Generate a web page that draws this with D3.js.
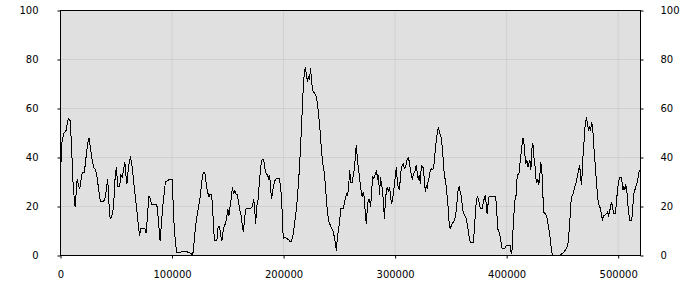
<!DOCTYPE html>
<html>
<head>
<meta charset="utf-8">
<script src="https://cdn.jsdelivr.net/npm/d3@7/dist/d3.min.js"></script>
<style>
  body { margin: 0; background: #ffffff; }
  text { font-family: "DejaVu Sans", sans-serif; font-size: 10px; fill: #000; }
</style>
</head>
<body>
<div id="chart"></div>
<script>
// Series: x position and value
const xs = [
  0, 1190, 2976, 5059, 6547, 7440, 8630, 9523, 10416, 11309, 12202, 13094, 13987, 14880, 16070, 17261,
  18451, 19642, 21427, 22618, 24403, 25594, 26784, 27974, 29760, 31546, 32736, 33926, 35117, 35712,
  38688, 40176, 41366, 42259, 43152, 43747, 44640, 45830, 47021, 48211, 49104, 50294, 51187, 52973,
  54163, 55354, 56544, 57734, 58627, 59520, 60710, 61901, 62794, 63984, 65174, 66365, 67555, 68746,
  69936, 70829, 72019, 75590, 76781, 77971, 79162, 80054, 81542, 86304, 87494, 88685, 89280, 90470,
  91661, 92851, 94042, 95827, 97613, 99994, 100886, 101779, 102970, 104160, 107731, 108922, 113088,
  114278, 116659, 117850, 119040, 120230, 121421, 122611, 123802, 124992, 126182, 127373, 128563,
  129766, 130659, 131849, 133040, 134230, 135421, 136313, 137206, 138099, 140182, 141372, 142563,
  143753, 144646, 145539, 146729, 147920, 149110, 150003, 150896, 152086, 153276, 154169, 155062,
  156252, 157443, 158633, 159824, 161014, 162204, 163097, 163990, 165180, 166371, 169942, 172323,
  172918, 173811, 175001, 175894, 177085, 177977, 178870, 179763, 180656, 182144, 183334, 184524,
  185715, 186608, 187500, 188393, 189286, 190179, 191369, 192560, 193750, 196131, 197024, 197916,
  198809, 199702, 201190, 202678, 204464, 205952, 207142, 208332, 209523, 210713, 211904, 213094,
  214284, 215177, 216070, 216963, 217856, 218748, 219641, 220534, 221427, 222320, 223212, 224105,
  224998, 225891, 226784, 227974, 229164, 230355, 231248, 232438, 233331, 234224, 235116, 236009,
  236902, 237795, 238688, 239580, 240771, 241961, 243152, 244342, 245532, 246425, 247318, 248211,
  249104, 250294, 251187, 253270, 254460, 255651, 256544, 257436, 258329, 259229, 260121, 261609,
  262502, 263395, 264288, 265181, 266073, 266966, 267859, 268752, 269645, 270537, 271430, 272323,
  273216, 274109, 275001, 275894, 277085, 277977, 278870, 279763, 280953, 282144, 283334, 284227,
  285120, 286013, 286905, 287798, 288691, 289584, 290477, 291369, 292262, 293155, 294048, 294941,
  295833, 296726, 297619, 298512, 299405, 300297, 301190, 302083, 302976, 303869, 304761, 305654,
  306547, 307440, 308333, 309225, 310118, 311011, 311904, 312797, 313689, 314582, 315475, 316368,
  317261, 318153, 319046, 319939, 320832, 321725, 322617, 323510, 324403, 325296, 326189, 327081,
  327974, 328867, 329760, 330653, 331545, 332438, 333331, 334224, 335117, 336009, 336902, 337795,
  338688, 339581, 340473, 341366, 342259, 343152, 344045, 344937, 345830, 346723, 347616, 348509,
  349401, 350294, 351187, 352080, 352973, 353865, 354758, 355651, 356544, 357437, 358329, 359222,
  360115, 361008, 362198, 363389, 364579, 365770, 366960, 368150, 370234, 371127, 372019, 372912,
  373805, 374698, 375591, 376483, 377971, 378864, 379757, 380650, 381542, 382435, 383328, 384221,
  390179, 391072, 391964, 393155, 394048, 394940, 395833, 398512, 399404, 403273, 404166, 404761,
  405654, 406547, 407440, 408332, 409225, 410118, 411011, 411904, 412796, 413689, 414582, 415475,
  416368, 417260, 418153, 419046, 419939, 420832, 421724, 422617, 423510, 424403, 425296, 426188,
  427081, 427974, 428867, 429760, 430652, 431545, 432438, 433331, 434521, 435712, 436604, 437497,
  438390, 439283, 440176, 441068, 447318, 448508, 449401, 450294, 451187, 452377, 453270, 454460,
  455353, 456246, 457139, 458032, 459222, 460115, 461008, 461900, 462793, 463686, 464579, 465472,
  466364, 467257, 468150, 469043, 469936, 470828, 471721, 472614, 473507, 474400, 475292, 476185,
  477078, 477971, 478864, 479756, 480649, 481542, 482435, 483328, 484220, 485113, 486006, 486899,
  488089, 489280, 490470, 491363, 492256, 493148, 494041, 494934, 495827, 497612, 498505, 499398,
  500291, 501184, 502374, 503267, 504160, 505052, 505945, 506838, 507731, 508624, 509516, 510409,
  512195, 513088, 513980, 514873, 515766, 516659, 517552, 518444, 519500
];
const ys = [
  33, 46, 50, 51, 55, 56, 55, 48, 39, 29, 24, 20, 25, 31, 29, 27,
  31, 34, 34, 39, 46, 48, 44, 40, 36, 35, 32, 28, 24, 22,
  22, 24, 28, 31, 25, 18, 15, 16, 18, 25, 33, 36, 28, 28,
  33, 32, 35, 38, 33, 29, 35, 39, 40, 37, 32, 27, 22, 17,
  12, 8, 11, 11, 9, 16, 24, 24, 21, 21, 16, 9, 6, 13,
  20, 25, 30, 30.5, 31, 31, 22.5, 13, 5.5, 1.2, 1.2, 1.8, 1.8,
  1.2, 1, 0.4, 1.4, 8, 13, 17, 20, 23, 28, 33, 34,
  33, 29, 26, 24, 25, 25, 20, 11.6, 6, 6, 12, 11.6,
  8, 6, 9, 12, 13, 16, 19, 16, 20, 24, 28, 25,
  26.5, 25, 25, 21, 18, 16, 11.6, 9.5, 16, 19, 19, 20,
  23, 21, 13, 20, 22.5, 28, 33, 37, 39, 39, 35.5, 33,
  33, 31, 33, 27, 23, 26.5, 29, 31, 31.5, 31.5, 29, 25,
  17, 7, 7.5, 7, 6.5, 5.5, 6, 8, 11.6, 16, 21, 28,
  36, 44, 52.5, 62, 70, 75.7, 76.4, 73.6, 71, 72.8, 71.6, 76.4,
  72.3, 67.5, 67, 66, 65, 62, 58, 52.5, 47, 41.6, 37.5, 35.5,
  32, 26.6, 21, 17, 13.6, 12.3, 11, 10, 7.5, 4.8, 2, 7.5,
  10, 14, 19, 19, 21, 24, 25, 24.5, 28, 35, 30, 30,
  33, 35, 40, 45, 40, 36, 33, 29, 26, 24, 26, 24,
  17.7, 13, 18.4, 23, 23, 20, 25, 32, 31.4, 33, 35, 31,
  33, 24.5, 32, 29, 27, 21, 15, 23, 26.6, 28, 26, 28,
  25, 21, 22.5, 26, 28.6, 33, 36, 29, 28, 26.6, 32, 36,
  37, 37.5, 35.5, 36, 37.5, 39.6, 40, 38, 35, 33, 31, 33,
  34, 35, 37, 33, 31, 33, 29, 37, 36, 36, 31, 26,
  28.6, 27, 31, 32, 35, 35.5, 35, 35.5, 38, 43, 47, 50,
  52, 51, 49, 48, 44, 39, 33, 31, 28, 24, 19, 13,
  11, 12, 13, 13.6, 14.3, 15.7, 18.4, 22.5, 27, 28, 26, 24.5,
  21, 17.7, 16.4, 15.7, 13, 9.5, 6, 5.2, 5.2, 11.6, 17.7, 22.5,
  24, 23, 21, 19, 19, 21, 23, 24.5, 21.8, 17, 21, 24,
  24, 18.4, 11, 9.5, 8, 5.5, 3, 3, 4, 4, 0.7, 2,
  10, 17, 22.5, 24, 31, 33, 33.4, 37.5, 41, 45, 48, 46,
  41, 37.5, 39, 36, 37.5, 39, 35, 43.7, 46, 40, 37.5, 31.4,
  30, 31, 29, 33, 38, 35, 25, 17.7, 17, 16.4, 14.3, 11.6,
  9.5, 6, 2, 0, 0, 0.3, 0.7, 1, 1.4, 2, 2.7, 4,
  6, 11.6, 17.7, 24, 24.5, 26, 28, 29, 31, 33, 35, 37,
  31.4, 29, 39, 44, 51, 54.5, 56.3, 53, 51, 53, 51, 54.5,
  52.5, 46, 40, 35, 29, 24, 21, 20, 19, 16.4, 14.3, 16.4,
  16.4, 17, 17.7, 16.4, 17.7, 20, 21.8, 20, 17, 17, 22.5, 26.6,
  30, 32, 32, 31, 26.6, 28, 26.6, 29, 26.6, 21, 17, 14.3,
  14.3, 20, 25, 26.6, 28, 29, 31, 34, 35
];
const xTicks = [0, 100000, 200000, 300000, 400000, 500000];
const yTicks = [0, 20, 40, 60, 80, 100];

const width = 700;
const height = 300;
const plotLeft = 60.5, plotRight = 640.5, plotTop = 10.5, plotBottom = 255.5;

const svg = d3.select("#chart")
    .append("svg")
    .attr("width", width)
    .attr("height", height);

const x = d3.scaleLinear().domain([0, 520000]).range([plotLeft, plotRight]);
const y = d3.scaleLinear().domain([0, 100]).range([plotBottom, plotTop]);

// Plot background
svg.append("rect")
    .attr("x", plotLeft).attr("y", plotTop)
    .attr("width", plotRight - plotLeft).attr("height", plotBottom - plotTop)
    .attr("fill", "#e0e0e0");

// Grid lines
svg.append("g")
    .selectAll("line")
    .data(yTicks.slice(1, -1))
    .enter().append("line")
    .attr("x1", plotLeft).attr("x2", plotRight)
    .attr("y1", d => y(d)).attr("y2", d => y(d))
    .attr("stroke", "#d0d0d0");

svg.append("g")
    .selectAll("line")
    .data(xTicks.slice(1))
    .enter().append("line")
    .attr("x1", d => x(d)).attr("x2", d => x(d))
    .attr("y1", plotTop).attr("y2", plotBottom)
    .attr("stroke", "#d0d0d0");

// Data line
const points = xs.map((v, i) => [v, ys[i]]);
const line = d3.line().x(d => x(d[0])).y(d => y(d[1]));

svg.append("path")
    .datum(points)
    .attr("d", line)
    .attr("fill", "none")
    .attr("stroke", "#000")
    .attr("stroke-width", 1)
    .attr("shape-rendering", "crispEdges");

// Frame
svg.append("rect")
    .attr("x", plotLeft).attr("y", plotTop)
    .attr("width", plotRight - plotLeft).attr("height", plotBottom - plotTop)
    .attr("fill", "none")
    .attr("stroke", "#000");

// Axes
const leftAxis = svg.append("g")
    .attr("transform", `translate(${plotLeft},0)`)
    .call(d3.axisLeft(y).tickValues(yTicks).tickSize(3).tickPadding(19));
const rightAxis = svg.append("g")
    .attr("transform", `translate(${plotRight},0)`)
    .call(d3.axisRight(y).tickValues(yTicks).tickSize(3).tickPadding(17));
const bottomAxis = svg.append("g")
    .attr("transform", `translate(0,${plotBottom})`)
    .call(d3.axisBottom(x).tickValues(xTicks).tickSize(3).tickPadding(12).tickFormat(d3.format("d")));

[leftAxis, rightAxis, bottomAxis].forEach(g => {
    g.select(".domain").remove();
    g.attr("font-family", null).attr("font-size", null);
    g.selectAll(".tick line").attr("stroke", "#000");
});
</script>
</body>
</html>
